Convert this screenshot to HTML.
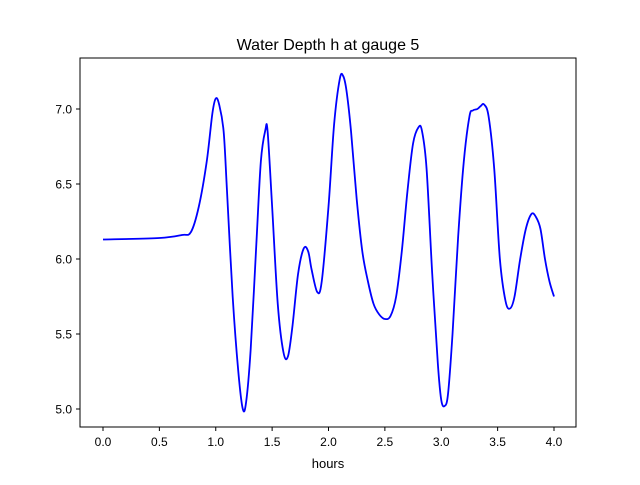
<!DOCTYPE html>
<html><head><meta charset="utf-8"><style>
body{margin:0;background:#fff}
svg{font-family:"Liberation Sans","DejaVu Sans",sans-serif}
</style></head><body>
<svg id="chart" width="640" height="480" viewBox="0 0 640 480" xmlns="http://www.w3.org/2000/svg">
<rect width="640" height="480" fill="#fff"/>
<text x="328" y="50" font-size="16" text-anchor="middle">Water Depth h at gauge 5</text>
<g id="xt"></g>
<g id="yt"></g>
<path id="line" fill="none" stroke="#0000ff" stroke-width="1.8"/>
<rect x="80" y="58" width="496" height="369" fill="none" stroke="#000" stroke-width="1"/>
<text x="328" y="468" font-size="13" text-anchor="middle">hours</text>
</svg>
<script>
const hours=[0,0.5,0.7,0.78,0.85,0.92,0.97,1.0,1.03,1.07,1.1,1.15,1.2,1.24,1.27,1.31,1.36,1.4,1.44,1.46,1.5,1.55,1.6,1.64,1.68,1.73,1.78,1.82,1.85,1.9,1.94,2.0,2.05,2.1,2.13,2.16,2.2,2.25,2.3,2.35,2.4,2.45,2.5,2.55,2.6,2.65,2.7,2.75,2.8,2.83,2.87,2.92,2.97,3.0,3.03,3.06,3.1,3.15,3.2,3.25,3.28,3.32,3.35,3.38,3.42,3.47,3.52,3.57,3.61,3.65,3.7,3.75,3.8,3.84,3.88,3.92,3.96,4.0];
const depth=[6.13,6.14,6.16,6.18,6.35,6.65,6.97,7.07,7.03,6.85,6.45,5.75,5.25,5.0,5.05,5.4,6.1,6.65,6.86,6.85,6.35,5.7,5.38,5.35,5.55,5.9,6.07,6.05,5.93,5.78,5.85,6.35,6.9,7.2,7.22,7.12,6.85,6.4,6.05,5.85,5.7,5.63,5.6,5.62,5.75,6.05,6.45,6.77,6.88,6.85,6.6,5.9,5.3,5.06,5.02,5.1,5.5,6.15,6.65,6.95,6.99,7.0,7.02,7.03,6.95,6.6,6.0,5.72,5.67,5.75,6.0,6.2,6.3,6.28,6.2,6.0,5.85,5.75];
const xTicks=[0,0.5,1,1.5,2,2.5,3,3.5,4];
const yTicks=[5,5.5,6,6.5,7];
const xs=v=>103+v*112.75, ys=v=>409-(v-5)*150;
const NS="http://www.w3.org/2000/svg";
function mk(tag,attrs,parent){const e=document.createElementNS(NS,tag);for(const k in attrs)e.setAttribute(k,attrs[k]);parent.appendChild(e);return e;}
const xt=document.getElementById('xt'),yt=document.getElementById('yt');
xTicks.forEach(t=>{const l=mk('line',{x1:xs(t),x2:xs(t),y1:427,y2:431,stroke:'#000'},xt);


const tx=mk('text',{x:xs(t),y:446,'font-size':12,'text-anchor':'middle'},xt);tx.textContent=t.toFixed(1);

});
yTicks.forEach(t=>{const l=mk('line',{x1:76,x2:80,y1:ys(t),y2:ys(t),stroke:'#000'},yt);


const tx=mk('text',{x:72,y:ys(t)+4.5,'font-size':12,'text-anchor':'end'},yt);tx.textContent=t.toFixed(1);

});
// Catmull-Rom smoothing
const P=hours.map((h,i)=>[xs(h),ys(depth[i])]);
let d='M'+P[0][0]+','+P[0][1];
for(let i=0;i<P.length-1;i++){const p0=P[Math.max(0,i-1)],p1=P[i],p2=P[i+1],p3=P[Math.min(P.length-1,i+2)];
const c1=[p1[0]+(p2[0]-p0[0])/6,p1[1]+(p2[1]-p0[1])/6],c2=[p2[0]-(p3[0]-p1[0])/6,p2[1]-(p3[1]-p1[1])/6];
d+=` C${c1[0]},${c1[1]} ${c2[0]},${c2[1]} ${p2[0]},${p2[1]}`;}
document.getElementById('line').setAttribute('d',d);
</script>
</body></html>
